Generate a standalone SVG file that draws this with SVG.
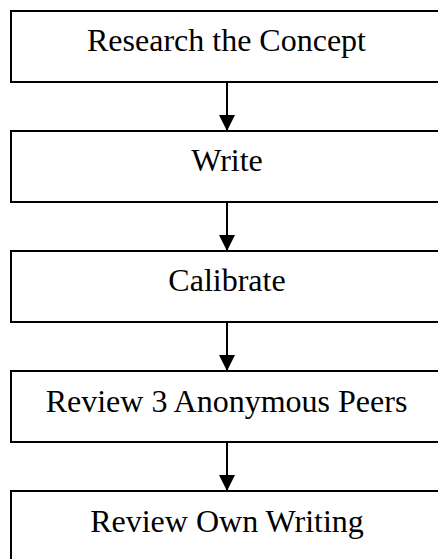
<svg xmlns="http://www.w3.org/2000/svg" width="438" height="559" viewBox="0 0 438 559">
  <style>
    .box { fill: #ffffff; stroke: #000000; stroke-width: 2; }
    .label { font-family: "Liberation Serif", "Times New Roman", serif; font-size: 32px; fill: #000000; text-anchor: middle; }
    .edge { stroke: #000000; stroke-width: 2; fill: none; }
  </style>
  <defs>
    <marker id="arrow" viewBox="0 0 16 16" refX="16" refY="8" markerWidth="16" markerHeight="16" markerUnits="userSpaceOnUse" orient="auto">
      <path d="M0,0 L16,8 L0,16 Z" fill="#000000"/>
    </marker>
  </defs>
  <rect width="438" height="559" fill="#ffffff"/>

  <g id="research">
    <rect class="box" x="11" y="11" width="440" height="71"/>
    <text class="label" x="226.5" y="51">Research the Concept</text>
  </g>
  <g id="write">
    <rect class="box" x="11" y="131" width="440" height="71"/>
    <text class="label" x="227" y="171">Write</text>
  </g>
  <g id="calibrate">
    <rect class="box" x="11" y="251" width="440" height="71"/>
    <text class="label" x="227" y="291">Calibrate</text>
  </g>
  <g id="review-peers">
    <rect class="box" x="11" y="371" width="440" height="71"/>
    <text class="label" x="226.5" y="411.5">Review 3 Anonymous Peers</text>
  </g>
  <g id="review-own">
    <rect class="box" x="11" y="491" width="440" height="90"/>
    <text class="label" x="227" y="531.5">Review Own Writing</text>
  </g>

  <g id="connectors">
    <line class="edge" x1="227" y1="82" x2="227" y2="131" marker-end="url(#arrow)"/>
    <line class="edge" x1="227" y1="202" x2="227" y2="251" marker-end="url(#arrow)"/>
    <line class="edge" x1="227" y1="322" x2="227" y2="371" marker-end="url(#arrow)"/>
    <line class="edge" x1="227" y1="442" x2="227" y2="491" marker-end="url(#arrow)"/>
  </g>
</svg>
